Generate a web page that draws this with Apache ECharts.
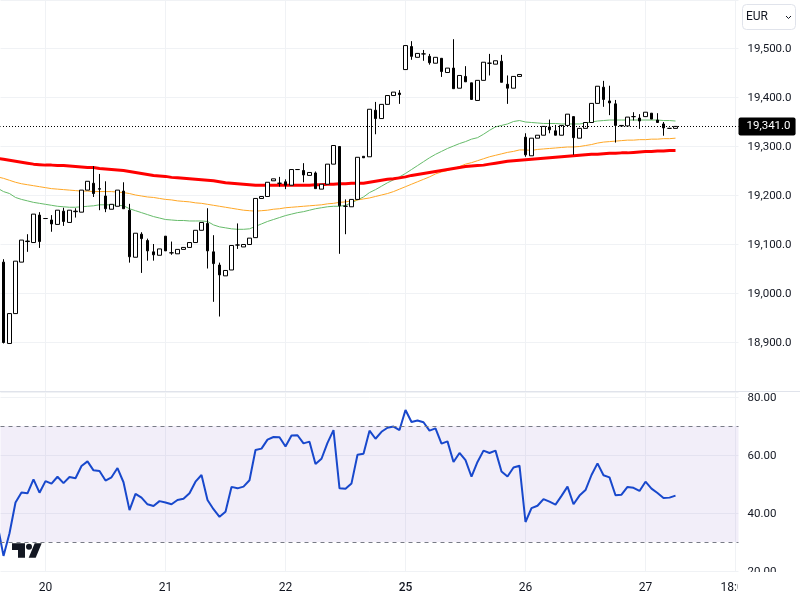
<!DOCTYPE html>
<html lang="en">
  <head>
    <meta charset="UTF-8" />
    <title>EUR 4h chart</title>
    <script src="https://cdn.jsdelivr.net/npm/echarts@6/dist/echarts.min.js"></script>
    <style>
      body { margin: 0; background: #fff; }
    </style>
  </head>
  <body>
    <div id="main" style="width: 800px; height: 600px"></div>
    <script type="text/javascript">
      // Candles
      const opens = [19063,18897,18958,19063,19105,19103,19159,19152,19149,19140,19167,19144,19166,19165,19210,19224,19213,19198,19171,19177,19208,19169,19073,19120,19107,19084,19077,19116,19082,19080,19089,19093,19103,19128,19142,19084,19057,19035,19047,19098,19094,19099,19113,19193,19197,19229,19224,19227,19220,19252,19250,19240,19245,19212,19222,19263,19299,19177,19176,19191,19279,19278,19373,19356,19385,19403,19408,19456,19503,19481,19488,19483,19469,19479,19450,19459,19418,19442,19429,19393,19434,19469,19467,19473,19426,19418,19442,19318,19280,19316,19322,19339,19331,19322,19342,19360,19316,19336,19348,19387,19420,19392,19386,19341,19341,19360,19357,19360,19367,19353,19345,19336,19336];
      const closes = [18899,18958,19065,19108,19106,19161,19105,19152,19141,19169,19146,19169,19167,19210,19228,19203,19212,19172,19181,19210,19172,19074,19122,19111,19086,19078,19090,19086,19082,19089,19093,19103,19128,19144,19086,19060,19037,19046,19097,19098,19099,19112,19193,19197,19226,19233,19224,19220,19252,19252,19241,19246,19213,19222,19263,19301,19178,19177,19191,19277,19276,19375,19356,19385,19403,19410,19405,19505,19483,19489,19488,19470,19481,19452,19459,19417,19444,19431,19395,19434,19471,19469,19474,19430,19418,19442,19446,19282,19316,19322,19340,19333,19322,19342,19365,19317,19336,19348,19387,19422,19395,19388,19342,19342,19359,19360,19351,19369,19355,19348,19337,19336,19340];
      const lows = [18897,18897,18958,19063,19084,19103,19092,19152,19125,19140,19137,19144,19154,19165,19210,19196,19169,19165,19171,19177,19172,19062,19073,19041,19066,19066,19077,19086,19078,19080,19089,19093,19103,19128,19050,18982,18952,19035,19047,19090,19094,19099,19113,19193,19197,19229,19217,19212,19220,19252,19226,19240,19213,19212,19222,19263,19080,19120,19176,19191,19276,19278,19324,19356,19385,19403,19386,19456,19476,19481,19474,19466,19469,19441,19450,19417,19418,19431,19395,19393,19434,19444,19467,19430,19386,19418,19442,19278,19280,19316,19322,19326,19322,19322,19342,19282,19316,19336,19348,19387,19380,19363,19307,19341,19341,19352,19335,19360,19355,19348,19321,19336,19336];
      const highs = [19069,18958,19065,19108,19120,19161,19165,19152,19159,19169,19174,19169,19173,19210,19228,19259,19243,19228,19181,19210,19226,19182,19122,19124,19111,19100,19090,19116,19105,19089,19093,19103,19128,19144,19173,19118,19062,19046,19097,19142,19099,19112,19193,19197,19226,19233,19237,19232,19252,19252,19265,19246,19248,19222,19263,19301,19299,19191,19191,19277,19279,19375,19390,19385,19403,19410,19414,19505,19514,19489,19496,19488,19481,19479,19459,19518,19444,19463,19429,19434,19471,19488,19474,19486,19444,19442,19446,19326,19316,19322,19340,19354,19343,19342,19365,19360,19336,19348,19387,19422,19433,19423,19394,19342,19359,19369,19365,19369,19367,19367,19349,19336,19340];

      // Moving averages and RSI: the first value sits just left of the window
      const maGreen = [19214,19207,19203,19195,19191,19188,19185,19183,19181,19179,19177,19176,19175,19175,19176,19177,19178,19180,19180,19180,19179,19178,19172,19168,19164,19160,19156,19153,19150,19149,19148,19148,19147,19147,19147,19146,19139,19135,19133,19131,19130,19130,19131,19136,19141,19146,19150,19154,19158,19161,19164,19166,19169,19172,19174,19176,19177,19177,19179,19184,19190,19196,19205,19211,19218,19225,19231,19237,19244,19252,19260,19268,19276,19283,19289,19295,19300,19305,19309,19314,19317,19324,19332,19339,19342,19345,19350,19352,19349,19348,19347,19346,19346,19346,19345,19345,19345,19345,19347,19349,19351,19352,19353,19353,19353,19353,19353,19353,19353,19353,19353,19352,19352,19351];
      const maOrange = [19237,19234,19230,19226,19223,19221,19219,19217,19215,19213,19212,19211,19210,19209,19208,19208,19207,19207,19207,19207,19206,19205,19203,19200,19198,19196,19195,19193,19191,19190,19188,19187,19186,19184,19183,19181,19179,19177,19175,19173,19171,19169,19168,19167,19168,19169,19171,19172,19174,19175,19176,19177,19178,19179,19180,19182,19183,19185,19186,19188,19190,19192,19194,19197,19200,19203,19207,19212,19217,19222,19227,19232,19237,19243,19247,19250,19254,19258,19263,19266,19270,19274,19278,19281,19284,19287,19289,19292,19292,19291,19293,19294,19295,19296,19297,19298,19298,19299,19301,19303,19306,19308,19309,19310,19311,19312,19312,19313,19313,19314,19314,19315,19315,19316];
      const maRed = [19275,19273,19271,19269,19267,19265,19263,19262,19261,19261,19260,19260,19259,19258,19257,19256,19256,19254,19253,19252,19251,19250,19248,19246,19244,19242,19240,19239,19238,19236,19235,19234,19233,19232,19231,19230,19229,19227,19225,19224,19223,19222,19221,19220,19220,19220,19220,19220,19220,19220,19220,19220,19220,19221,19221,19222,19222,19223,19223,19224,19224,19224,19226,19228,19230,19232,19233,19235,19237,19240,19242,19244,19246,19248,19250,19252,19254,19256,19258,19259,19260,19261,19263,19265,19267,19269,19270,19271,19272,19273,19274,19275,19276,19277,19278,19279,19280,19281,19282,19283,19283,19284,19285,19285,19286,19286,19287,19288,19289,19289,19290,19290,19291,19291];
      const rsi = [36,25.2,33,43.6,47.1,46.8,51.6,47,51,50.1,52.5,50.3,52.4,52,56.2,57.8,54.7,54.5,51.2,52.3,55.5,50.6,41,46.6,45.3,43,42.4,44.1,43.6,43,44.5,44.9,46.8,50.8,53.1,44.5,41.3,38.7,40.4,49,48.5,49.1,51.3,61.7,62.2,65.3,66.2,66.1,62.9,66.7,66.8,64,64.6,56.9,58.7,64.2,68.6,48.5,48.4,50.2,60.1,60.4,68.4,65.6,68,69.4,69.8,68.6,75.5,71.4,71.9,71.3,68.4,69.2,63.9,64.7,57.6,60.7,58.2,52.5,57.6,61.5,60.7,61.5,54.3,52.6,55.7,56.3,36.9,41.7,42.5,44.8,43.9,42.9,45.9,49.1,43,46,47.9,53.1,57.1,53,52.3,46.1,46.3,49,48.7,47.6,50.8,48.4,46.9,45.2,45.3,46];

      // Time axis: bar number of each tick and its label
      const tickBars = [7, 27, 47, 67, 87, 107, 122];
      const tickLabels = ["20", "21", "22", "25", "26", "27", "18:00"];
      const lastPrice = 19341;
      const currency = "EUR";

      const font = "Roboto";
      const textColor = "#131722";
      const gridColor = "#f0f2f5";

      // One category per bar slot, with one extra slot left of the window
      const slots = 124;
      const categories = new Array(slots).fill("");
      tickBars.forEach((bar, i) => (categories[bar + 1] = tickLabels[i]));

      // Up and down candles go in separate series: the down bodies are narrower
      const blank = ["-", "-", "-", "-"];
      const candlesUp = [blank].concat(
        opens.map((o, i) => (closes[i] >= o ? [o, closes[i], lows[i], highs[i]] : blank))
      );
      const candlesDown = [blank].concat(
        opens.map((o, i) => (closes[i] < o ? [o, closes[i], lows[i], highs[i]] : blank))
      );

      const fmtPrice = (v) =>
        v.toLocaleString("en-US", { minimumFractionDigits: 1, maximumFractionDigits: 1 });

      const maLine = (data, color, width) => ({
        type: "line",
        data: data,
        xAxisIndex: 0,
        yAxisIndex: 0,
        showSymbol: false,
        silent: true,
        z: 2,
        lineStyle: { color: color, width: width },
      });

      const xAxisBase = {
        type: "category",
        data: categories,
        min: 1,
        axisLine: { show: false },
        axisTick: { show: false },
        splitLine: {
          show: true,
          alignWithLabel: true,
          interval: (index, value) => value !== "",
          lineStyle: { color: gridColor, width: 1 },
        },
      };

      const candleStyle = {
        color: "#ffffff",
        color0: "#000000",
        borderColor: "#000000",
        borderColor0: "#000000",
        borderWidth: 1,
      };

      let myChart = echarts.init(document.getElementById("main"));

      myChart.setOption({
        animation: false,
        backgroundColor: "#fff",
        textStyle: { fontFamily: font },
        grid: [
          { left: 0.5, width: 738, top: 0, height: 391 },
          { left: 0.5, width: 738, top: 392, height: 179 },
        ],
        xAxis: [
          { ...xAxisBase, gridIndex: 0, axisLabel: { show: false } },
          {
            ...xAxisBase,
            gridIndex: 1,
            axisLabel: {
              show: true,
              interval: 0,
              margin: 11,
              fontFamily: font,
              fontSize: 12,
              color: textColor,
              hideOverlap: false,
              formatter: (v) => (v === "25" ? "{b|25}" : v),
              rich: { b: { fontFamily: font, fontSize: 12, fontWeight: 500, color: textColor } },
            },
          },
        ],
        yAxis: [
          {
            type: "value",
            gridIndex: 0,
            position: "right",
            min: 18800,
            max: 19598,
            interval: 100,
            axisLine: { show: false },
            axisTick: { show: false },
            splitLine: { lineStyle: { color: gridColor, width: 1 } },
            axisLabel: {
              margin: 9,
              verticalAlign: "top",
              lineHeight: 2,
              fontFamily: font,
              fontSize: 11.5,
              color: textColor,
              showMinLabel: false,
              showMaxLabel: false,
              formatter: fmtPrice,
            },
          },
          {
            type: "value",
            gridIndex: 1,
            position: "right",
            min: 20,
            max: 81.72,
            interval: 20,
            axisLine: { show: false },
            axisTick: { show: false },
            splitLine: { lineStyle: { color: gridColor, width: 1 } },
            axisLabel: {
              margin: 9,
              verticalAlign: "top",
              lineHeight: 2,
              fontFamily: font,
              fontSize: 11.5,
              color: textColor,
              showMaxLabel: false,
              formatter: (v) => v.toFixed(2),
            },
          },
        ],
        series: [
          maLine(maGreen, "#66bb6a", 1),
          maLine(maOrange, "#ffa726", 1),
          maLine(maRed, "#ff0000", 3),
          {
            type: "candlestick",
            data: candlesUp,
            xAxisIndex: 0,
            yAxisIndex: 0,
            barWidth: 4,
            z: 3,
            silent: true,
            itemStyle: candleStyle,
            markLine: {
              silent: true,
              symbol: "none",
              animation: false,
              lineStyle: { color: "#000000", type: [1, 2], dashOffset: 0.5, width: 1 },
              label: {
                show: true,
                position: "end",
                distance: 0,
                formatter: () => fmtPrice(lastPrice),
                fontFamily: font,
                fontSize: 11.5,
                color: "#ffffff",
                backgroundColor: "#000000",
                borderRadius: 2,
                padding: [4, 5, 2, 8],
              },
              // a little under the price so the dots land on one pixel row
              data: [{ yAxis: lastPrice - 1.2 }],
            },
          },
          {
            type: "candlestick",
            data: candlesDown,
            xAxisIndex: 0,
            yAxisIndex: 0,
            barWidth: 2,
            z: 3,
            silent: true,
            itemStyle: candleStyle,
          },
          {
            type: "line",
            data: rsi,
            xAxisIndex: 1,
            yAxisIndex: 1,
            showSymbol: false,
            silent: true,
            z: 3,
            lineStyle: { color: "#1848cc", width: 2 },
            markArea: {
              silent: true,
              itemStyle: { color: "rgba(126,87,194,0.1)" },
              data: [[{ yAxis: 30 }, { yAxis: 70 }]],
            },
            markLine: {
              silent: true,
              symbol: "none",
              animation: false,
              label: { show: false },
              lineStyle: { color: "#787b86", type: [4, 4], width: 1 },
              data: [{ yAxis: 70 }, { yAxis: 30 }],
            },
          },
        ],
        graphic: [
          // pane separator
          { type: "line", z: 10, silent: true, shape: { x1: 0, y1: 391.5, x2: 800, y2: 391.5 }, style: { stroke: "#e0e3eb", lineWidth: 1 } },
          // currency picker
          { type: "rect", z: 10, silent: true, shape: { x: 742.5, y: 4.5, width: 53, height: 25, r: 4 }, style: { fill: "#fff", stroke: "#e0e3eb", lineWidth: 1 } },
          { type: "text", z: 11, silent: true, x: 746, y: 11, style: { text: currency, font: "12px " + font, fill: textColor } },
          { type: "polyline", z: 11, silent: true, shape: { points: [[786, 16], [788.5, 18.5], [791, 16]] }, style: { stroke: textColor, fill: null, lineWidth: 1 } },
          // clips the labels that run past the pane edges
          { type: "rect", z: 9, silent: true, shape: { x: 738, y: 572, width: 62, height: 28 }, style: { fill: "#fff" } },
          // TradingView mark
          { type: "polygon", z: 10, silent: true, shape: { points: [[12, 543.3], [25, 543.3], [25, 557.7], [18, 557.7], [18, 550], [12, 550]] }, style: { fill: textColor } },
          { type: "circle", z: 10, silent: true, shape: { cx: 29, cy: 546.7, r: 3 }, style: { fill: textColor } },
          { type: "polygon", z: 10, silent: true, shape: { points: [[41.7, 543.3], [35.7, 557.7], [28.7, 557.7], [34.7, 543.3]] }, style: { fill: textColor } },
        ],
      });
    </script>
  </body>
</html>
